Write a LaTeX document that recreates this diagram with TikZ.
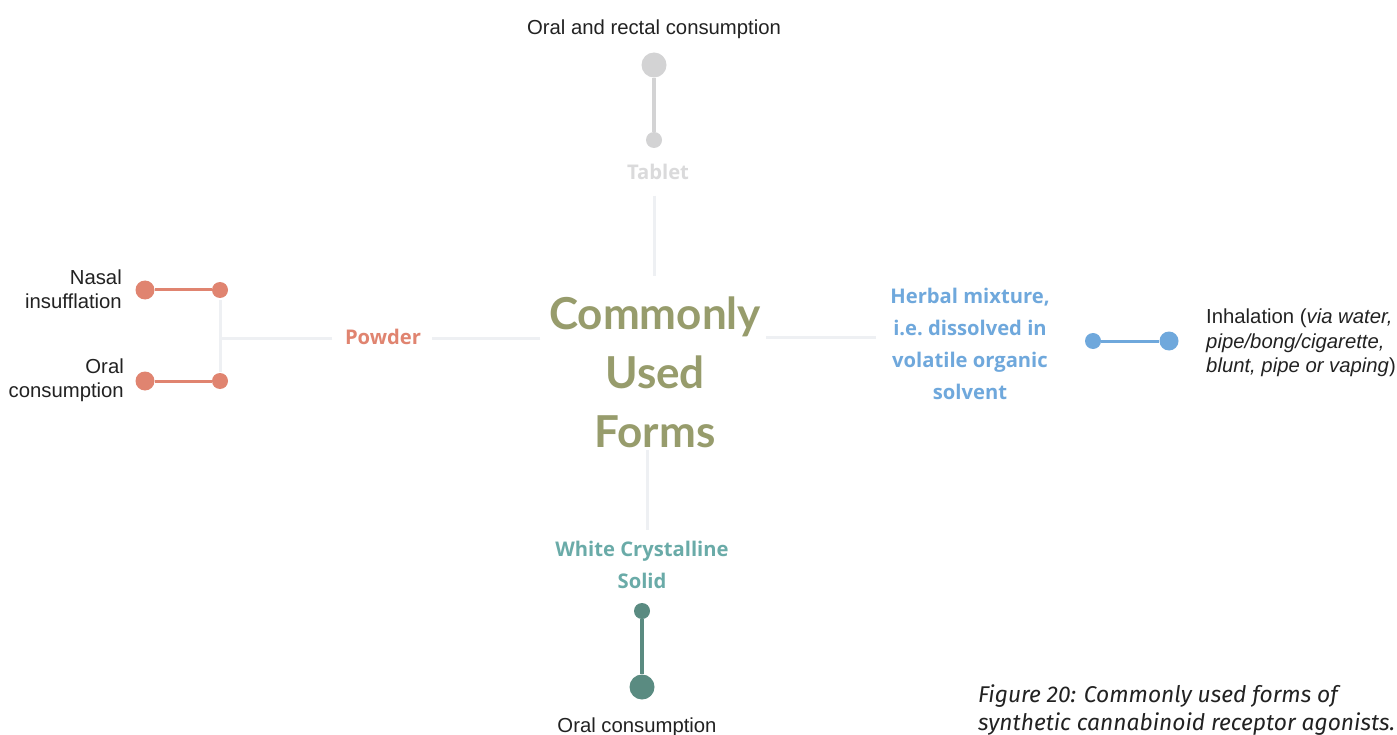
\documentclass[tikz,border=0pt]{standalone}
\usepackage{fontspec}
\setmainfont{Liberation Sans}
\newfontfamily\centerfont{Lato}
\newfontfamily\labelfont{Open Sans}
\newfontfamily\capfont{Fira Sans}
\definecolor{olivec}{HTML}{979C6C}
\definecolor{salmon}{HTML}{E08470}
\definecolor{bluec}{HTML}{6FA8DC}
\definecolor{tealtxt}{HTML}{6AABA8}
\definecolor{tealdot}{HTML}{5A8B81}
\definecolor{greyc}{HTML}{D3D3D4}
\definecolor{linkc}{HTML}{EEF0F3}
\definecolor{textc}{HTML}{222222}
\tikzset{
  dotsmall/.style={circle, fill=#1, inner sep=0pt, minimum size=16pt},
  dotbig/.style={circle, fill=#1, inner sep=0pt, minimum size=19pt},
  dothuge/.style={circle, fill=#1, inner sep=0pt, minimum size=25pt},
  link/.style={draw=linkc, line width=3pt},
  stem/.style={draw=#1, line width=4pt},
  plain/.style={font=\fontsize{20.3}{24.5}\selectfont, text=textc, inner sep=0pt},
  formlabel/.style={font=\labelfont\bfseries\fontsize{20.2}{32}\selectfont, text=#1, inner sep=0pt, align=center},
}
\begin{document}
\begin{tikzpicture}[x=1pt,y=-1pt]
\useasboundingbox[fill=white] (0,0) rectangle (1397,735);
% centre
\node[font=\centerfont\bfseries\fontsize{44}{59}\selectfont, text=olivec, align=center, inner sep=0pt] (center) at (655,372) {Commonly\\Used\\Forms};
% top branch
\node[plain] (oralrectal) at (654,29) {Oral and rectal consumption};
\node[dothuge=greyc] (tdot1) at (654,65) {};
\node[dotsmall=greyc] (tdot2) at (654,140) {};
\draw[stem=greyc] (tdot1) -- (tdot2);
\node[formlabel=greyc!85] (tablet) at (658,172) {Tablet};
\coordinate (ct1) at (654,196);
\coordinate (ct2) at (654,276);
\draw[link] (ct1) -- (ct2);
% bottom branch
\coordinate (cb1) at (647,450);
\coordinate (cb2) at (647,530);
\draw[link] (cb1) -- (cb2);
\node[formlabel=tealtxt] (crystal) at (642,565) {White Crystalline\\Solid};
\node[dotsmall=tealdot] (bdot1) at (642,611) {};
\node[dothuge=tealdot] (bdot2) at (642,687) {};
\draw[stem=tealdot] (bdot1) -- (bdot2);
\node[plain] (oralb) at (637,727) {Oral consumption};
% left branch
\coordinate (cl1) at (540,338);
\coordinate (cl2) at (432,338);
\draw[link] (cl1) -- (cl2);
\node[formlabel=salmon] (powder) at (383,337) {Powder};
\coordinate (cl3) at (332,338);
\coordinate (cl4) at (220,338);
\draw[link] (cl3) -- (cl4);
\coordinate (cv1) at (220,300);
\coordinate (cv2) at (220,372);
\draw[link] (cv1) -- (cv2);
\node[dotsmall=salmon] (ldot1) at (220,290) {};
\node[dotbig=salmon] (ldot2) at (145,290) {};
\draw[draw=salmon, line width=3pt] (ldot1) -- (ldot2);
\node[dotsmall=salmon] (ldot3) at (220,381) {};
\node[dotbig=salmon] (ldot4) at (145,381) {};
\draw[draw=salmon, line width=3pt] (ldot3) -- (ldot4);
\node[plain, align=right, anchor=east] (nasal) at (122,289) {Nasal\\insufflation};
\node[plain, align=right, anchor=east] (oralleft) at (124,380) {Oral\\consumption};
% right branch
\coordinate (cr1) at (766,337);
\coordinate (cr2) at (876,337);
\draw[link] (cr1) -- (cr2);
\node[formlabel=bluec] (herbal) at (970,344) {Herbal mixture,\\i.e.\ dissolved in\\volatile organic\\solvent};
\node[dotsmall=bluec] (rdot1) at (1093,341) {};
\node[dotbig=bluec] (rdot2) at (1169,341) {};
\draw[draw=bluec, line width=3pt] (rdot1) -- (rdot2);
\node[plain, align=left, anchor=west] (inhal) at (1206,343) {Inhalation (\textit{via water,}\\\textit{pipe/bong/cigarette,}\\\textit{blunt, pipe or vaping})};
% caption
\node[font=\capfont\itshape\fontsize{22.8}{28}\selectfont, text=textc, align=left, anchor=west, inner sep=0pt] (caption) at (978,710) {Figure 20: Commonly used forms of\\synthetic cannabinoid receptor agonists.};
\end{tikzpicture}
\end{document}
